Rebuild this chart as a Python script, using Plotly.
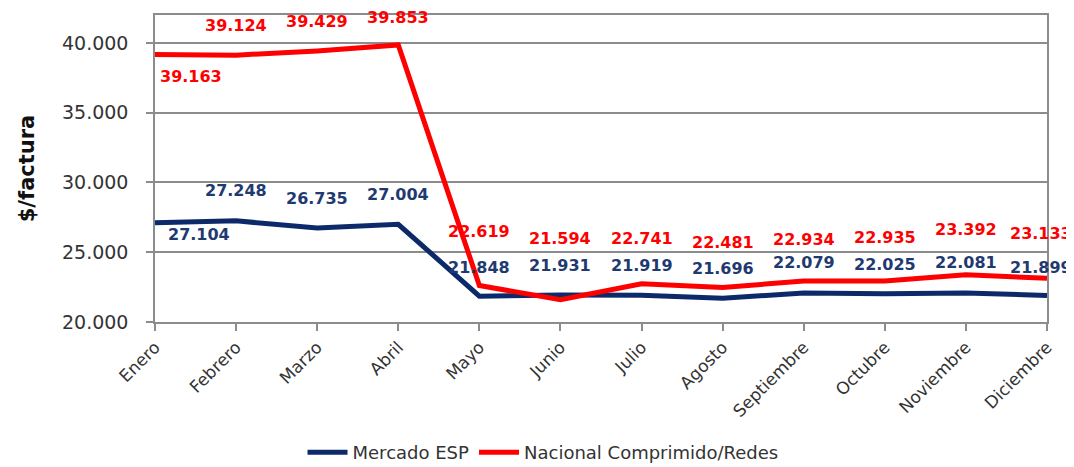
import plotly.graph_objects as go

months = ["Enero", "Febrero", "Marzo", "Abril", "Mayo", "Junio", "Julio",
          "Agosto", "Septiembre", "Octubre", "Noviembre", "Diciembre"]
mercado_esp = [27104, 27248, 26735, 27004, 21848, 21931, 21919, 21696, 22079, 22025, 22081, 21899]
nacional = [39163, 39124, 39429, 39853, 22619, 21594, 22741, 22481, 22934, 22935, 23392, 23133]
ytick_vals = [20000, 25000, 30000, 35000, 40000]
ytick_text = ["20.000", "25.000", "30.000", "35.000", "40.000"]

# label placement (style only, pixels)
blue_yshift = [-12, 30, 30, 30, 29, 30, 30, 30, 30, 29, 30, 28]
blue_xshift = [44, 0, 0, 0, 0, 0, 0, 0, 0, 0, 0, -6]
red_yshift = [-22, 30, 29, 27, 54, 61, 45, 45, 42, 44, 45, 45]
red_xshift = [36, 0, 0, 0, 0, 0, 0, 0, 0, 0, 0, -6]

BLUE = "#0C2A6A"
BLUE_TXT = "#1F3A70"
RED = "#FF0000"
FONT = "DejaVu Sans"


def fmt(v):
    return f"{v:,}".replace(",", ".")


fig = go.Figure()
fig.add_trace(go.Scatter(x=months, y=mercado_esp, mode="lines", name="Mercado ESP",
                         line=dict(color=BLUE, width=5)))
fig.add_trace(go.Scatter(x=months, y=nacional, mode="lines", name="Nacional Comprimido/Redes",
                         line=dict(color=RED, width=5)))

annotations = []
for i, m in enumerate(months):
    annotations.append(dict(x=m, y=mercado_esp[i], text=fmt(mercado_esp[i]), showarrow=False,
                            xref="x", yref="y", yshift=blue_yshift[i], xshift=blue_xshift[i],
                            font=dict(family=FONT, size=16, color=BLUE_TXT, weight="bold")))
    annotations.append(dict(x=m, y=nacional[i], text=fmt(nacional[i]), showarrow=False,
                            xref="x", yref="y", yshift=red_yshift[i], xshift=red_xshift[i],
                            font=dict(family=FONT, size=16, color=RED, weight="bold")))

fig.update_layout(
    width=1066, height=459,
    margin=dict(l=147, r=27, t=7, b=145, autoexpand=False),
    paper_bgcolor="white", plot_bgcolor="white",
    font=dict(family=FONT, color="#222222"),
    showlegend=True,
    legend=dict(orientation="h", x=0.435, xanchor="center", y=-0.425, yanchor="middle",
                font=dict(family=FONT, size=18, color="#333333"), itemwidth=40,
                bgcolor="rgba(0,0,0,0)"),
    annotations=annotations,
)
fig.update_xaxes(
    type="category", range=[0, 11], tickangle=-45,
    tickfont=dict(family=FONT, size=17, color="#333333"),
    showline=True, linecolor="#8C8C8C", linewidth=1.5, mirror=True,
    ticks="outside", ticklen=7, tickcolor="#8C8C8C", tickwidth=1.5,
    showgrid=False, zeroline=False,
)
fig.update_yaxes(
    range=[20000, 42000], tickvals=ytick_vals, ticktext=ytick_text,
    tickfont=dict(family=FONT, size=19, color="#333333"),
    showline=True, linecolor="#8C8C8C", linewidth=1.5, mirror=True,
    ticks="outside", ticklen=7, tickcolor="#8C8C8C", tickwidth=1.5,
    ticklabelstandoff=14,
    showgrid=True, gridcolor="#8C8C8C", gridwidth=1.5, zeroline=False,
    title=dict(text="<b>$/factura</b>", font=dict(family=FONT, size=21, color="#111111"), standoff=22),
)

fig.write_html("out.html")
